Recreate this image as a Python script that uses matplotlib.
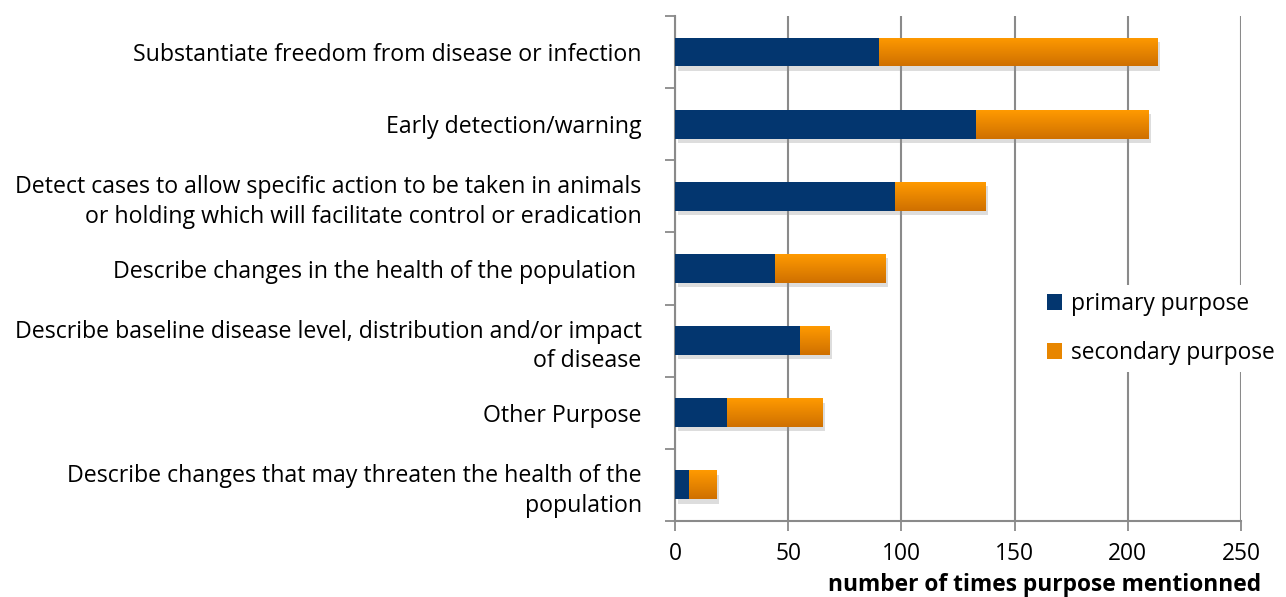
import numpy as np
import matplotlib
matplotlib.use("Agg")
import matplotlib.pyplot as plt
import matplotlib.patheffects as pe
from matplotlib.colors import LinearSegmentedColormap

categories = [
    "Substantiate freedom from disease or infection",
    "Early detection/warning",
    "Detect cases to allow specific action to be taken in animals\nor holding which will facilitate control or eradication",
    "Describe changes in the health of the population ",
    "Describe baseline disease level, distribution and/or impact\nof disease",
    "Other Purpose",
    "Describe changes that may threaten the health of the\npopulation",
]
primary = [90, 133, 97, 44, 55, 23, 6]
secondary = [123, 76, 40, 49, 13, 42, 12]
xticks = [0, 50, 100, 150, 200, 250]
series_labels = ["primary purpose", "secondary purpose"]
xlabel = "number of times purpose mentionned"

plt.rcParams['font.family'] = ['Open Sans', 'DejaVu Sans']
FS = 16.4
FSY = 16.7

NAVY = "#03366F"
ORANGE_TOP = "#FF9A00"
ORANGE_BOT = "#CF7000"
GRID = "#8A8A8A"

fig = plt.figure(figsize=(12.86, 5.97), dpi=100)
ax = fig.add_axes([675/1286, 1-521/597, (1241-675)/1286, (521-16)/597])

y = np.arange(len(categories))
shadow = [pe.SimplePatchShadow(offset=(2, -3), shadow_rgbFace="#909090", alpha=0.3), pe.Normal()]

b1 = ax.barh(y, primary, height=0.40, color=NAVY, zorder=3, label=series_labels[0])
b2 = ax.barh(y, secondary, left=primary, height=0.40, color=ORANGE_TOP, zorder=3,
             label=series_labels[1])
for p in list(b1) + list(b2):
    p.set_path_effects(shadow)

cmap = LinearSegmentedColormap.from_list("og", [ORANGE_TOP, ORANGE_BOT])
grad = np.linspace(0, 1, 64).reshape(-1, 1)
for p in b2:
    x0, yb = p.get_x(), p.get_y()
    w, h = p.get_width(), p.get_height()
    im = ax.imshow(grad, cmap=cmap, aspect='auto', extent=(x0, x0 + w, yb + h, yb),
                   origin='upper', zorder=3.5, interpolation='bilinear')
    im.set_clip_path(p)

ax.set_xlim(0, 250)
ax.set_ylim(len(categories) - 0.5, -0.5)
ax.set_xticks(xticks)
ax.set_xticklabels([str(t) for t in xticks], fontsize=FS)
ax.tick_params(axis='x', length=7, width=1.3, color=GRID, pad=8, direction='out')

ax.set_yticks(np.arange(-0.5, len(categories)), minor=False)
ax.set_yticklabels([])
ax.set_yticks(y, minor=True)
ax.set_yticklabels(categories, minor=True, fontsize=FSY, ha='right', linespacing=1.32)
ax.tick_params(axis='y', which='major', length=7, width=1.3, color=GRID, direction='out')
ax.tick_params(axis='y', which='minor', length=0, pad=24)

ax.grid(axis='x', color=GRID, linewidth=1.5, zorder=0)
ax.set_axisbelow(True)
for s in ['top', 'right']:
    ax.spines[s].set_visible(False)
for s in ['left', 'bottom']:
    ax.spines[s].set_color(GRID)
    ax.spines[s].set_linewidth(1.5)

ax.set_xlabel(xlabel, fontsize=FS, fontweight='bold')
ax.xaxis.set_label_coords((1045 - 675) / 566, -0.103)

leg = ax.legend(loc='upper left', bbox_to_anchor=((1040 - 675) / 566, (521 - 285) / 505),
                frameon=True, fontsize=FS, handlelength=0.66, handleheight=0.66,
                handletextpad=0.42, labelspacing=1.1, borderpad=0.3, borderaxespad=0)
leg.get_frame().set_facecolor('white')
leg.get_frame().set_edgecolor('none')
leg.get_frame().set_alpha(1)
for h in leg.legend_handles:
    h.set_path_effects([])
leg.legend_handles[1].set_facecolor("#E88600")
leg.set_zorder(5)

fig.savefig("out.png", dpi=100, facecolor='white')
